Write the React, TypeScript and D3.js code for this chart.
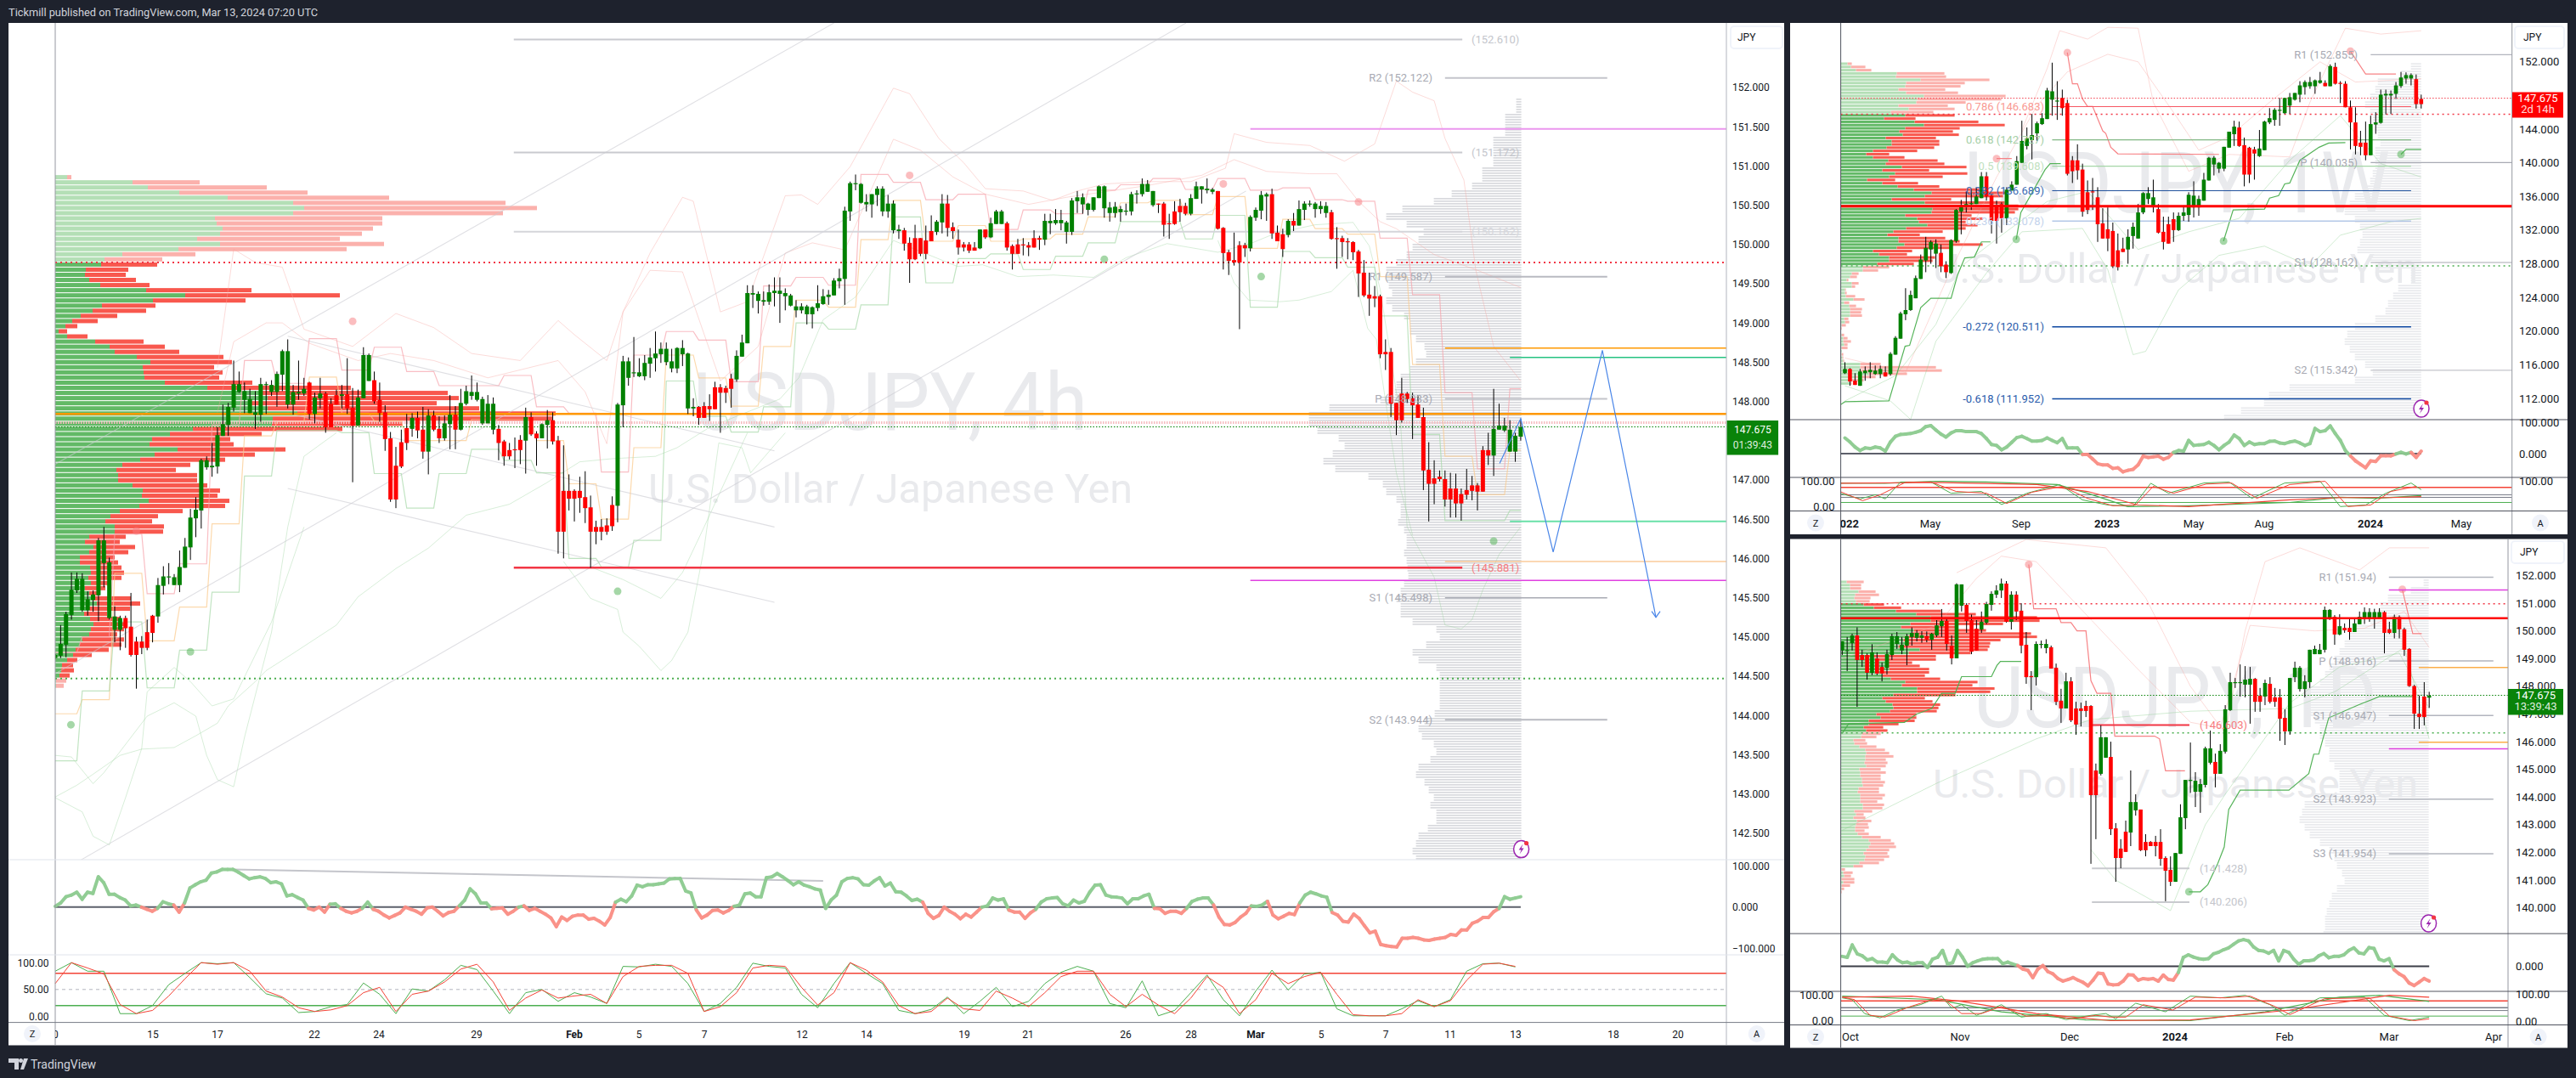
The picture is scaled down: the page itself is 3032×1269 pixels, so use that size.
import React from "react";
import * as d3 from "d3";

// ===== 4h candles [open, high, low, close] =====
const main4hCandles: number[][] = [
[144.73,144.78,144.72,144.77],[144.76,145.15,144.73,144.91],[144.90,145.32,144.74,145.29],[145.28,145.82,145.22,145.60],[145.59,145.82,145.56,145.74],[145.34,145.81,145.32,145.74],[145.34,145.58,145.27,145.48],[145.47,145.59,145.32,145.54],[145.53,146.26,145.20,146.23],[145.94,146.40,145.63,146.23],
[145.24,146.01,145.22,145.95],[145.09,145.39,144.93,145.26],[145.09,145.27,144.83,145.24],[145.24,145.27,144.86,145.11],[145.13,145.56,144.75,144.77],[144.94,145.0,144.34,144.77],[144.94,145.01,144.78,144.86],[145.06,145.22,144.83,144.86],[145.27,145.28,144.93,145.05],[145.26,145.75,145.18,145.66],
[145.65,145.90,145.54,145.77],[145.76,145.94,145.67,145.77],[145.66,145.80,145.66,145.76],[145.66,146.10,145.57,145.89],[145.88,146.26,145.88,146.15],[146.14,146.63,145.98,146.52],[146.51,146.78,146.27,146.62],[146.61,147.27,146.38,147.25],[147.16,147.30,147.13,147.25],[147.16,147.47,147.04,147.18],
[147.17,147.67,147.08,147.57],[147.56,147.96,147.56,147.71],[147.70,147.98,147.56,147.93],[147.92,148.52,147.87,148.22],[148.12,148.38,148.11,148.22],[148.02,148.24,147.85,148.13],[147.85,148.16,147.85,148.03],[147.83,148.13,147.65,147.86],[147.83,148.30,147.74,148.22],[148.21,148.25,147.84,148.22],
[148.12,148.27,148.07,148.21],[148.12,148.38,147.93,148.35],[148.34,148.66,148.13,148.64],[147.96,148.79,147.91,148.64],[147.96,148.21,147.83,148.12],[148.10,148.52,148.02,148.12],[148.10,148.30,148.07,148.16],[148.24,148.25,147.77,147.84],[147.84,148.11,147.72,148.05],[148.04,148.30,147.91,148.10],
[148.10,148.12,147.60,147.67],[147.97,148.04,147.67,147.67],[148.08,148.15,147.96,147.96],[148.07,148.21,147.91,148.09],[148.09,148.55,147.84,147.91],[147.92,148.17,146.97,147.69],[147.69,148.15,147.69,148.05],[148.04,148.69,148.04,148.59],[148.26,148.61,148.26,148.59],[148.27,148.38,147.97,148.0],
[148.02,148.24,147.74,147.85],[147.86,147.95,147.37,147.52],[147.53,147.61,146.72,146.75],[147.18,147.42,146.64,146.75],[147.48,147.64,147.15,147.17],[147.66,147.84,147.38,147.47],[147.65,147.85,147.55,147.79],[147.79,147.87,147.53,147.63],[147.64,147.93,147.27,147.36],[147.36,147.90,147.07,147.82],
[147.82,147.88,147.62,147.64],[147.65,147.81,147.47,147.53],[147.53,147.82,147.50,147.72],[147.71,148.08,147.39,147.83],[147.83,147.94,147.39,147.64],[147.64,148.16,147.63,147.98],[147.97,148.20,147.95,148.13],[148.07,148.33,148.02,148.12],[148.02,148.24,148.0,148.12],[147.72,148.06,147.70,148.03],
[147.72,148.08,147.72,147.97],[147.64,148.05,147.58,147.97],[147.65,147.70,147.25,147.47],[147.49,147.51,147.18,147.30],[147.38,147.47,147.26,147.30],[147.39,147.54,147.15,147.38],[147.51,147.57,147.20,147.38],[147.50,147.92,147.08,147.80],[147.80,147.86,147.56,147.58],[147.59,147.62,147.18,147.53],
[147.53,147.72,147.53,147.71],[147.70,147.89,147.40,147.76],[147.76,147.86,147.45,147.49],[147.50,147.56,146.06,146.34],[146.86,147.44,146.0,146.34],[146.86,147.07,146.61,146.76],[146.86,146.88,146.47,146.76],[146.86,147.04,146.58,146.77],[146.78,147.11,146.45,146.64],[146.65,146.80,145.88,146.34],
[146.40,146.48,146.18,146.34],[146.40,146.50,146.23,146.34],[146.42,146.51,146.30,146.34],[146.68,146.79,146.35,146.41],[146.67,147.98,146.46,147.96],[147.95,148.58,147.67,148.51],[148.30,148.56,148.20,148.51],[148.36,148.82,148.31,148.37],[148.32,148.55,148.31,148.37],[148.32,148.59,148.27,148.49],
[148.48,148.68,148.30,148.56],[148.55,148.89,148.38,148.61],[148.60,148.75,148.49,148.67],[148.50,148.75,148.46,148.67],[148.42,148.67,148.37,148.51],[148.42,148.69,148.36,148.68],[148.60,148.78,148.45,148.68],[147.91,148.62,147.84,148.61],[147.91,148.04,147.81,147.93],[147.93,147.94,147.70,147.79],
[147.94,147.99,147.79,147.79],[147.94,148.09,147.75,147.90],[148.18,148.25,147.90,147.90],[148.18,148.22,147.60,148.11],[148.17,148.20,147.98,148.11],[148.29,148.35,147.92,148.16],[148.28,148.65,148.25,148.58],[148.57,148.85,148.57,148.75],[148.74,149.48,148.74,149.38],[149.36,149.48,149.19,149.38],
[149.28,149.40,149.12,149.37],[149.27,149.40,149.22,149.29],[149.27,149.49,149.23,149.39],[149.38,149.58,149.21,149.41],[149.37,149.58,149.0,149.41],[149.34,149.44,149.16,149.38],[149.22,149.37,149.21,149.35],[149.16,149.29,149.07,149.21],[149.16,149.25,149.12,149.21],[149.11,149.23,148.98,149.21],
[149.11,149.21,148.93,149.20],[149.19,149.48,149.15,149.25],[149.24,149.43,149.23,149.34],[149.33,149.42,149.23,149.36],[149.35,149.57,149.35,149.54],[149.53,149.69,149.44,149.57],[149.56,150.48,149.23,150.43],[150.42,150.80,150.30,150.78],[150.77,150.89,150.69,150.78],[150.53,150.78,150.52,150.77],
[150.51,150.64,150.42,150.54],[150.51,150.64,150.34,150.64],[150.63,150.74,150.49,150.71],[150.42,150.74,150.36,150.71],[150.42,150.63,150.34,150.52],[150.18,150.56,150.14,150.52],[150.17,150.25,150.07,150.19],[150.18,150.21,149.92,150.01],[150.02,150.09,149.51,149.81],[150.08,150.25,149.80,149.81],
[150.08,150.08,149.85,149.88],[150.05,150.24,149.81,149.88],[150.17,150.37,150.04,150.04],[150.16,150.31,150.12,150.29],[150.28,150.64,150.14,150.52],[150.52,150.63,150.10,150.21],[150.22,150.28,150.07,150.17],[150.06,150.19,149.87,149.96],[150.0,150.03,149.91,149.96],[150.0,150.03,149.89,149.92],
[149.96,150.03,149.92,149.92],[149.95,150.19,149.94,150.19],[150.19,150.19,150.07,150.09],[150.09,150.34,150.08,150.27],[150.26,150.44,150.26,150.42],[150.26,150.44,150.26,150.42],[150.27,150.29,149.92,149.96],[149.98,150.0,149.68,149.88],[150.0,150.07,149.88,149.88],[150.0,150.08,149.86,149.99],
[149.99,150.03,149.85,149.96],[150.08,150.18,149.96,149.96],[150.08,150.11,149.93,150.06],[150.06,150.39,149.99,150.30],[150.27,150.39,150.13,150.30],[150.27,150.45,150.25,150.31],[150.27,150.44,150.18,150.31],[150.16,150.30,150.01,150.28],[150.16,150.59,150.12,150.56],[150.55,150.68,150.40,150.60],
[150.51,150.65,150.39,150.60],[150.44,150.53,150.37,150.52],[150.44,150.60,150.42,150.60],[150.59,150.75,150.59,150.74],[150.46,150.75,150.34,150.74],[150.40,150.54,150.29,150.47],[150.40,150.54,150.34,150.48],[150.41,150.49,150.29,150.45],[150.42,150.52,150.37,150.43],[150.42,150.67,150.37,150.64],
[150.64,150.69,150.52,150.65],[150.64,150.84,150.61,150.77],[150.67,150.82,150.67,150.77],[150.50,150.68,150.48,150.68],[150.52,150.52,150.40,150.51],[150.52,150.54,150.10,150.25],[150.27,150.39,150.07,150.26],[150.42,150.55,150.25,150.26],[150.49,150.58,150.29,150.41],[150.49,150.53,150.37,150.39],
[150.39,150.64,150.37,150.59],[150.58,150.80,150.58,150.74],[150.70,150.74,150.52,150.74],[150.69,150.84,150.65,150.71],[150.67,150.72,150.64,150.70],[150.68,150.68,150.19,150.20],[150.21,150.22,149.68,149.89],[149.90,149.93,149.61,149.79],[149.80,150.15,149.73,149.77],[149.99,150.04,148.92,149.77],
[149.99,150.02,149.84,149.95],[149.95,150.37,149.91,150.35],[150.34,150.47,150.30,150.44],[150.43,150.68,150.32,150.63],[150.61,150.66,150.30,150.64],[150.64,150.71,150.07,150.14],[150.15,150.24,150.04,150.04],[150.13,150.20,149.84,149.94],[150.12,150.32,150.09,150.30],[150.30,150.40,150.17,150.24],
[150.24,150.56,150.24,150.45],[150.44,150.55,150.31,150.52],[150.51,150.56,150.48,150.52],[150.45,150.54,150.34,150.52],[150.45,150.55,150.39,150.49],[150.40,150.54,150.34,150.49],[150.41,150.44,150.06,150.07],[150.08,150.22,149.69,150.07],[150.08,150.11,149.84,150.03],[150.04,150.08,149.81,150.03],
[150.03,150.04,149.80,149.90],[149.91,149.93,149.33,149.63],[149.64,149.80,149.33,149.35],[149.36,149.64,149.09,149.31],[149.34,149.47,149.20,149.31],[149.34,149.36,148.55,148.60],[148.63,148.79,148.40,148.60],[148.63,148.68,147.80,147.97],[147.98,147.98,147.57,147.76],[148.10,148.30,147.73,147.76],
[148.10,148.12,147.98,148.03],[148.04,148.11,147.52,147.95],[147.96,148.08,147.79,147.79],[147.80,147.92,146.87,147.12],[147.13,147.48,146.47,146.95],[147.02,147.25,146.69,146.95],[147.04,147.12,146.98,147.01],[147.01,147.12,146.66,146.75],[146.89,147.09,146.52,146.75],[146.89,147.08,146.52,146.70],
[146.82,146.89,146.48,146.70],[146.87,147.14,146.75,146.81],[146.93,147.05,146.74,146.86],[146.93,146.96,146.61,146.85],[147.38,147.43,146.85,146.85],[147.38,147.60,147.19,147.31],[147.31,148.16,147.05,147.65],[147.64,147.97,147.64,147.69],[147.63,147.79,147.61,147.69],[147.36,147.76,147.36,147.64],
[147.36,147.60,147.23,147.56],[147.55,147.78,147.50,147.67]];

const weeklyCandles: number[][] = [
[115.0,116.3,114.9,115.5],[115.5,115.6,113.5,114.0],[114.1,115.0,113.6,113.6],[113.5,115.5,113.5,115.2],[115.0,115.8,114.1,115.3],[115.1,116.3,114.4,115.4],[114.9,115.9,114.8,115.3],[114.9,115.9,114.4,115.5],[115.1,115.8,114.6,114.6],[114.9,117.5,114.7,117.3],
[117.2,119.4,117.2,119.2],[119.1,122.3,119.1,122.1],[122.0,125.1,121.3,122.5],[122.5,124.8,122.4,124.3],[123.9,126.6,123.9,126.3],[126.2,129.1,126.2,128.5],[128.4,131.2,127.0,129.9],[129.7,130.8,128.0,130.6],[129.2,130.9,127.5,130.4],[129.3,130.3,127.0,127.7],
[127.9,128.3,126.3,127.0],[126.9,130.9,126.8,130.8],[130.7,134.5,130.5,134.4],[134.2,135.6,131.5,134.8],[134.7,136.6,134.1,135.1],[135.1,136.8,134.4,135.2],[135.1,137.1,135.1,136.0],[135.8,138.9,135.8,138.4],[138.4,138.9,135.5,136.0],[136.1,136.2,131.6,133.1],
[135.0,135.5,130.4,133.1],[135.1,135.3,131.7,133.4],[133.4,137.1,132.6,136.8],[136.7,137.8,136.7,137.4],[137.4,140.8,137.4,140.2],[140.0,145.0,140.0,142.6],[142.0,144.2,141.6,142.9],[142.7,145.8,140.4,143.3],[143.5,144.9,142.6,144.7],[144.6,145.9,144.5,145.3],
[145.2,148.9,145.2,148.6],[147.5,151.9,145.6,148.5],[147.3,149.7,145.1,147.4],[147.7,148.7,145.6,146.5],[147.1,147.5,138.5,138.7],[140.3,140.8,137.6,139.0],[140.3,142.2,138.0,139.1],[139.2,139.9,133.6,134.2],[136.5,137.9,133.9,134.4],[136.6,138.2,134.4,136.5],
[135.9,137.1,130.6,132.7],[132.8,134.6,131.0,131.0],[132.1,134.7,129.5,131.0],[131.9,132.9,127.5,127.7],[129.6,131.6,127.2,127.6],[129.8,131.1,129.4,129.4],[129.7,132.1,128.0,131.2],[131.3,132.9,129.8,132.4],[131.0,135.1,131.0,134.1],[134.1,136.5,133.9,136.4],
[135.7,137.1,135.1,136.4],[134.9,138.0,134.1,135.9],[134.5,135.1,131.6,131.7],[131.8,133.6,129.7,130.6],[132.7,133.6,130.4,130.4],[133.3,134.1,130.6,132.0],[132.0,134.1,131.9,133.7],[133.7,134.9,133.1,134.1],[133.8,136.5,133.0,136.2],[134.7,137.8,133.5,136.1],
[134.7,136.1,133.7,135.7],[135.5,138.8,135.5,138.0],[137.9,140.7,137.9,140.6],[139.8,140.8,138.5,140.6],[139.3,140.1,138.8,140.0],[139.3,141.9,139.0,141.9],[141.8,143.7,141.8,143.7],[143.4,145.0,142.0,144.3],[144.2,144.9,141.9,142.0],[142.1,143.0,137.2,138.6],
[141.8,141.9,137.6,138.6],[141.6,141.9,138.0,141.1],[140.8,143.9,140.7,141.7],[141.5,145.0,141.5,144.9],[144.8,146.5,144.6,145.3],[145.1,146.5,144.4,146.3],[146.2,147.7,144.4,146.3],[145.9,147.7,145.8,147.7],[146.8,148.3,145.8,147.8],[147.5,148.3,147.4,148.3],
[148.1,149.7,147.2,149.2],[149.0,149.8,148.1,149.6],[149.1,150.2,148.8,149.6],[149.1,149.9,148.2,149.8],[149.5,150.8,149.4,149.8],[149.5,149.8,149.1,149.1],[149.1,151.7,149.1,151.5],[151.4,151.9,149.3,149.4],[149.5,149.7,147.1,149.4],[149.4,149.7,146.6,146.6],
[146.6,147.4,141.6,144.8],[144.8,146.6,141.0,142.0],[142.4,143.8,140.9,141.9],[142.4,144.9,140.3,140.9],[140.9,145.6,140.9,144.6],[144.55,146,143.45,144.8],[144.75,148.7,144.65,148.1],[148,148.7,145.75,148.2],[148,148.6,145.8,148.2],[148.2,149.6,147.6,149.2],
[149.13,150.8,148.9,150.14],[150.02,150.75,149.4,150.43],[150.02,150.63,149.2,150.43],[149.94,150.5,146.45,146.98],[147.59,148.1,146.45,146.98]];

const dailyCandles: number[][] = [
[149.29,149.62,149.13,149.62],[149.29,149.78,148.55,149.31],[149.56,149.9,149.29,149.84],[149.84,150.13,147.26,148.95],[149.13,149.32,148.70,148.95],[149.13,149.19,148.24,148.49],[148.49,149.52,148.40,149.22],[149.01,149.22,148.40,148.46],[148.70,148.86,148.18,148.46],[148.67,149.32,148.43,149.16],
[149.13,149.9,148.95,149.81],[149.53,149.96,149.35,149.81],[149.29,149.78,149.16,149.5],[149.47,149.9,148.76,149.81],[149.78,150.13,149.47,149.93],[149.75,150.03,149.62,149.93],[149.75,149.99,149.57,149.84],[149.81,149.98,149.59,149.68],[149.68,149.93,149.32,149.9],[149.84,150.39,149.78,150.2],
[150.17,150.79,149.78,150.36],[150.36,150.48,149.29,149.53],[149.47,149.84,148.79,149.01],[149.01,151.72,149.01,151.68],[150.91,151.68,150.7,151.68],[150.94,151.0,149.93,150.36],[150.39,150.59,149.16,149.25],[150.08,150.39,149.29,149.29],[150.05,150.7,149.93,150.33],[150.3,151.05,150.24,150.97],
[150.94,151.43,150.73,151.34],[151.31,151.65,151.19,151.46],[151.46,151.89,151.19,151.71],[151.71,151.8,150.3,150.33],[150.33,151.43,150.05,151.31],[151.31,151.43,150.39,150.7],[150.73,151.0,149.19,149.47],[149.5,149.96,148.09,148.33],[148.37,148.55,147.14,148.33],[148.33,149.62,148.03,149.53],
[149.5,149.65,149.37,149.53],[149.38,149.7,149.19,149.53],[149.41,149.47,148.64,148.64],[148.67,148.82,147.32,147.44],[147.48,147.91,146.68,147.2],[147.2,148.49,147.2,148.18],[148.18,148.33,146.71,146.77],[147.2,147.44,146.25,146.62],[147.2,147.41,146.55,147.11],[147.29,147.48,146.89,147.11],
[147.29,147.32,141.59,144.07],[144.96,145.21,142.48,144.07],[144.84,146.59,144.78,146.16],[145.42,146.16,145.42,146.16],[145.45,146.0,142.63,142.84],[142.87,143.06,140.94,141.8],[142.14,142.48,141.43,141.8],[142.75,143.15,142.02,142.02],[142.72,144.96,142.23,143.82],[143.52,144.1,143.33,143.82],
[143.55,143.55,142.05,142.08],[142.38,142.66,141.86,142.08],[142.38,142.41,142.23,142.23],[142.38,142.6,141.86,142.23],[142.38,142.84,141.52,141.77],[141.8,141.86,140.24,141.34],[141.37,141.86,140.79,140.94],[140.94,141.98,140.94,141.98],[141.95,143.74,141.95,143.27],[143.24,144.62,142.84,144.62],
[144.59,145.97,144.15,144.62],[144.19,144.9,143.64,144.59],[144.19,144.65,143.43,144.47],[144.44,145.82,144.35,145.76],[145.24,146.4,145.18,145.76],[145.27,145.57,144.35,144.84],[144.84,145.91,144.84,145.67],[145.64,147.32,145.57,147.17],[147.14,148.49,147.11,148.15],[148.12,148.3,147.94,148.15],
[148.12,148.79,147.63,148.15],[148.06,148.73,147.6,148.24],[148.06,148.7,146.65,148.27],[148.27,148.3,147.08,147.44],[147.66,147.94,147.08,147.44],[147.63,148.24,147.32,148.12],[148.09,148.33,147.38,147.44],[147.6,147.94,147.26,147.44],[147.6,147.9,146.03,146.83],[146.86,147.17,145.88,146.37],
[146.37,148.3,146.25,148.3],[148.33,148.89,148.15,148.67],[147.9,148.73,147.81,148.67],[147.9,148.4,147.6,148.18],[148.15,149.32,147.94,149.32],[149.16,149.47,149.16,149.35],[149.16,149.53,149.16,149.32],[149.32,150.88,149.22,150.76],[150.48,150.79,150.39,150.76],[150.51,150.57,149.5,149.87],
[149.87,150.6,149.84,150.17],[150.11,150.27,149.93,150.02],[150.11,150.45,149.68,149.96],[149.96,150.45,149.96,150.27],[150.24,150.7,150.24,150.51],[150.44,150.85,150.25,150.68],[150.44,150.82,150.33,150.68],[150.44,150.8,150.08,150.68],[150.46,150.82,150.44,150.68],[150.68,150.72,149.19,149.93],
[150.06,150.33,149.89,149.93],[149.93,150.59,149.73,150.5],[150.5,150.56,149.73,150.06],[150.06,150.12,149.1,149.32],[149.35,149.38,147.98,148.01],[148.01,148.05,146.46,147.01],[147.01,147.67,146.46,146.89],[147.63,148.15,146.59,146.89],[147.59,147.8,147.22,147.66]];

// ===== left volume profiles [up volume, total volume] =====
const main4hVolume: number[][] = [[14,19],[91,170],[109,249],[146,297],[203,393],[280,530],[293,567],[280,527],[188,385],[190,385],[197,374],[194,361],[167,335],[194,387],[145,343],[79,165],[58,126],[54,120],[36,86],[35,83],[40,95],[53,111],[107,231],[153,335],[115,224],[55,118],[44,107],[30,73],[20,50],[12,26],[4,14],[14,38],[47,104],[64,129],[70,146],[96,198],[112,208],[103,187],[104,197],[105,193],[129,232],[179,348],[241,462],[250,475],[228,449],[250,499],[285,589],[256,585],[255,409],[162,338],[135,243],[114,206],[111,210],[144,271],[117,235],[100,200],[79,159],[72,142],[74,167],[74,167],[91,179],[103,194],[102,191],[110,205],[99,200],[76,150],[65,121],[59,114],[70,128],[70,127],[40,83],[35,76],[45,94],[40,86],[29,70],[29,74],[41,78],[42,81],[39,78],[42,63],[35,59],[40,52],[45,89],[49,100],[40,88],[34,61],[41,77],[45,82],[42,81],[40,73],[32,81],[29,78],[24,63],[21,43],[14,26],[8,21],[7,22],[5,17],[1,13],[1,10]];
const weeklyVolume: number[][] = [[8,13],[12,29],[18,36],[66,122],[65,124],[94,175],[77,146],[76,141],[68,123],[77,138],[98,194],[90,189],[89,147],[68,126],[80,134],[59,109],[76,134],[51,88],[87,162],[98,193],[76,140],[69,132],[73,139],[53,112],[60,116],[60,116],[54,110],[38,90],[30,57],[38,75],[56,114],[53,122],[72,148],[49,104],[64,149],[57,120],[31,64],[49,91],[67,116],[86,167],[107,195],[99,191],[60,130],[99,193],[110,209],[108,209],[107,205],[76,154],[90,167],[92,147],[102,161],[77,147],[62,120],[55,93],[68,123],[68,140],[75,167],[66,130],[38,84],[45,78],[57,111],[57,108],[43,86],[26,57],[26,44],[13,21],[11,19],[7,9],[13,21],[13,17],[5,6],[5,7],[6,17],[15,28],[4,10],[10,18],[11,25],[11,24],[11,25],[4,9],[5,10],[1,6],[0.4,1],[0,0.4],[1,4],[3,8],[3,12],[4,8],[1,8],[1,1],[1,3],[2,3],[3,4],[23,47],[23,112],[24,119],[33,78],[17,41],[13,27],[11,13]];
const dailyVolume: number[][] = [[7,27],[11,24],[11,24],[21,41],[17,45],[16,35],[18,34],[27,51],[39,71],[65,118],[89,159],[106,231],[106,234],[82,191],[71,138],[86,171],[84,224],[80,231],[74,188],[76,176],[68,175],[93,173],[80,153],[33,112],[43,112],[55,84],[55,93],[57,104],[49,104],[49,99],[59,117],[76,161],[72,155],[90,181],[90,176],[62,135],[49,99],[53,108],[61,117],[62,115],[58,113],[42,89],[47,89],[33,87],[33,68],[27,50],[30,55],[25,47],[24,42],[15,29],[16,31],[22,42],[29,52],[30,57],[29,62],[29,53],[28,55],[30,53],[22,47],[23,53],[23,47],[25,47],[25,52],[26,50],[21,45],[20,45],[23,52],[23,49],[23,43],[26,51],[26,49],[16,37],[18,27],[15,29],[19,36],[18,32],[17,33],[17,28],[20,33],[25,47],[33,59],[35,63],[33,65],[30,57],[27,55],[29,57],[28,51],[22,45],[15,26],[1,5],[3,14],[4,12],[1,16],[3,16],[1,11],[1,4],[0.4,1]];

// ===== right fixed-range grey volume profiles =====
const mainGreyProfile = [6,6,19,19,19,33,33,33,33,46,46,58,82,103,140,159,135,115,121,128,135,147,159,159,156,152,159,152,138,131,131,124,114,112,124,131,142,147,149,166,226,250,250,240,215,208,222,233,219,180,163,159,147,142,142,145,138,135,135,138,135,134,133,138,142,147,142,142,128,100,96,112,128,121,100,96,96,96,96,96,102,114,121,117,103,100,107,121,124,114,109,103,107,100,100,110,121,124,128,124];
const weeklyGreyProfile = [12,24,51,54,60,66,60,57,54,51,48,54,54,54,57,60,66,78,84,90,78,72,69,72,75,60,54,12,12,27,33,39,42,54,78,87,90,84,78,66,57,78,155,179,185,212,232];
const dailyGreyProfile = [6,21,48,57,60,69,87,93,99,105,111,117,122,128,140,140,146,146,134,128,128,122,117,117,111,105,105,105,134,146,149,152,146,140,128,117,111,108,102,99,108,114,117,120,122,122,124];

// ===== main chart indicators =====
const mainCci = [2,10,25,29,36,19,36,33,73,59,31,31,23,17,3,5,0,-5,-10,-3,13,8,5,-12,10,46,54,61,65,82,85,91,91,91,84,76,68,71,73,69,59,61,56,27,30,23,17,-3,-7,0,-12,7,8,-3,-10,-14,-10,-3,12,-5,-10,-19,-26,-20,-14,0,-5,-10,-17,-2,0,-10,-21,-13,-10,3,17,44,32,10,10,-4,-3,-2,-17,-10,0,3,-8,-3,-10,-17,-26,-47,-24,-32,-22,-19,-19,-29,-27,-34,-43,-25,12,19,13,27,53,49,54,54,56,58,68,69,69,39,34,-7,-26,-19,-8,-7,-14,-8,2,5,32,34,25,25,71,73,81,73,64,54,61,53,49,44,41,-3,17,29,61,69,
71,68,54,53,63,71,51,58,37,36,27,16,19,12,-15,-27,-20,0,-10,-17,-28,-17,-24,-12,0,3,22,17,20,-7,-12,-12,-27,-14,-5,12,20,22,23,8,3,17,10,14,36,53,54,29,25,24,22,8,20,20,27,31,-3,-4,-15,-10,-10,-15,-3,14,19,22,22,5,-24,-42,-43,-37,-24,-15,3,2,5,14,-19,-28,-22,-15,-18,10,29,36,32,27,24,-13,-19,-34,-36,-17,-27,-45,-62,-58,-90,-93,-95,-96,-75,-75,-73,-75,-79,-80,-77,-75,-73,-66,-68,-55,-55,-39,-34,-25,-25,-11,-3,25,19,22,25];
// stochastic, one reading per three 4h bars
const mainStochK = [84,100,84,84,5,5,20,59,80,100,98,100,72,42,34,7,9,18,22,62,41,5,51,47,68,95,87,47,5,44,50,28,44,36,24,93,92,97,93,61,9,24,54,99,93,90,41,16,61,100,80,61,11,5,13,36,5,28,54,18,28,61,82,93,84,24,16,66,1,11,44,77,31,1,47,86,49,79,82,14,1,1,1,14,29,18,31,84,98,99,92];
const mainStochD = [61,100,90,79,22,5,11,38,70,100,97,100,84,47,36,16,9,12,20,44,54,9,41,47,64,88,97,64,11,34,49,34,38,41,24,74,93,95,95,80,9,18,44,90,95,93,54,21,44,100,86,64,20,5,9,34,14,11,47,34,18,44,74,84,84,41,18,41,21,5,34,74,54,5,31,80,61,74,82,41,3,1,1,5,31,18,29,67,97,99,93];

// daily-stepped channel of the 4h chart, one value per session
const mainUpperChannel = [144.8,145.0,146.31,145.55,145.93,147.7,148.52,148.23,148.80,148.4,148.69,148.38,148.2,148.2,148.33,147.93,147.85,147.1,148.59,148.89,148.78,148.25,149.47,149.58,149.48,150.89,150.79,150.57,150.64,150.19,150.44,150.39,150.69,150.76,150.84,150.70,150.84,150.69,150.72,150.57,150.55,150.08,149.36,148.11,147.14,148.16];
const mainMiddleChannel = [144.02,144.2,145.81,144.95,145.38,146.44,147.56,147.74,148.31,147.85,147.75,147.5,147.5,147.77,147.77,147.5,146.95,146.5,147.41,148.59,148.3,147.94,148.70,149.29,149.2,150.06,150.56,150.04,150.24,150.04,150.07,150.13,150.35,150.53,150.56,150.38,150.61,149.95,150.32,150.2,150.13,149.59,148.47,147.3,146.81,147.38];
const mainLowerChannel = [143.42,144.31,145.19,144.35,144.83,145.57,147.05,147.63,147.63,147.6,147.08,146.64,147.08,147.39,147.25,147.09,146.0,145.89,146.23,148.26,147.81,147.61,147.93,149.0,148.92,149.23,150.35,149.51,149.82,149.88,149.68,149.85,150.02,150.29,150.29,150.07,150.37,149.2,149.91,149.83,149.71,149.09,147.58,146.48,146.48,146.61];

// pale envelopes [bar, price]
const mainPinkEnvelopes: number[][][] = [
[[30,148.43],[33,149.94],[37,149.77],[42,149.71],[46,148.92],[55,148.7],[63,149.12],[70,148.94],[77,148.61],[86,148.52],[93,149.03],[96,148.85],[102,148.52],[105,149.14],[110,149.89],[116,150.6],[118,150.55],[123,149.14],[128,149.27],[135,150.62],[138,150.63],[141,150.51],[147,150.99],[155,151.99],[158,151.92],[163.4,151.35],[168,151.04],[172,150.71],[179,150.68],[184.4,150.56],[189,150.68],[194,150.77],[202,150.8],[210,150.8],[216.4,150.97],[218,151.41],[224,151.3],[232,151.26],[238.4,151.06],[244,151.28],[248,152.08],[251,151.94],[255,151.83],[257,151.35],[260.5,150.82],[262.7,149.67],[266,148.7],[271,148.26]],
[[30,147.86],[33,148.76],[39,149],[42,149],[47,148.74],[56,148.52],[62,148.61],[70,148.52],[80,148.3],[93,148.52],[98,148.12],[102,147.46],[105,149.14],[110,149.67],[116,149.65],[123,148.26],[130,148.7],[135,149.89],[140,150.02],[146,149.93],[155,151.34],[160,151.2],[166,150.86],[172,150.64],[180,150.51],[187,150.6],[193,150.66],[202,150.75],[212,150.88],[218,151.08],[224,150.93],[232,150.9],[237,150.9],[241,150.55],[245,150.29],[248,150.2],[255,149.87],[263,149.67],[271,149.45]]];
const mainGreenEnvelopes: number[][][] = [
[[0,142.96],[4,143.11],[7,143.25],[12,143.49],[16,143.57],[22,143.59],[26,143.74],[30,143.9],[32,144.12],[37,144.43],[39,144.57],[44,144.79],[52,145.15],[56,145.51],[63,145.87],[69,146.13],[76,146.55],[84,146.69],[90.8,146.96],[97,147.23],[103,147.27],[111,147.3],[115,147.41],[121,147.67],[126,147.81],[134,148.03],[137.5,148.3],[142,149.04],[148,149.33],[155,150.05],[166.8,149.72],[171.5,149.74],[178,149.59],[184.6,149.61],[192,149.58],[198,149.83],[205.6,150.01],[215,149.9],[221,150.01],[225.6,150.14],[233,150.25],[240,150.28],[243,149.98],[245,149.43],[248.7,147.81],[250,146.4],[255,145.76],[257,145.15],[260,145.1],[262,145.22],[264,145.6],[267,146.05],[271,146.4]],
[[0,143.49],[3,143.47],[7,143.13],[9,143.27],[14,143.72],[17,143.99],[22,144.16],[26,143.99],[28,143.49],[30,143.18],[33,143.09],[35,143.72],[40,145.06],[43,146.4],[46,147.3],[52,147.6]],
[[0,142.95],[5,142.77],[7,142.46],[10,142.35],[13,142.95],[16,143.58],[17,144.3],[22,144.61],[25,144.43],[29,144.12],[33,144.21],[40,145.19],[46,146.4]],
[[94,145.96],[99,145.49],[104,145.35],[105,145.06],[108,144.88],[112,144.57],[114,144.7],[117,145.06],[120,146.13],[122.7,147.47],[127,147.41],[128.6,147.09],[135,147.6]],
[[99,145.89],[105,145.73],[112,145.49],[116,145.82],[120,146.4],[128,147.6]],
[[215,150.05],[218,149.51],[220.7,149.29],[226.5,149.27],[230,149.29],[236,149.4],[240,149.67],[242.7,148.93],[244.3,148.79],[248,147.09],[251,146.3]]];
const mainTrendlines: number[][][] = [[[4.8,142.16],[220.2,150.68]],[[0,144.53],[209.1,152.82]],[[0,147.2],[144,152.82]],[[43,148.83],[133,147.37]],[[43,147.85],[133,146.4]],[[43,146.89],[133,145.44]]];
const mainProjection: number[][] = [[267.1,147.21],[271,147.78],[277,146.08],[286.1,148.65],[296,145.25]];
const mainPinkDots: number[][] = [[15,146.35],[55,149.02],[158,150.88],[216,150.77],[241,150.54]];
const mainGreenDots: number[][] = [[2.9,143.88],[25,144.81],[104,145.58],[194,149.81],[223,149.59],[266,146.22]];

// ===== weekly overlays =====
const weeklyCci = [50,37,21,10,18,16,21,18,8,37,55,61,62,64,68,73,86,89,75,62,53,66,73,73,70,70,70,64,48,29,26,12,21,36,51,55,48,40,40,42,50,42,35,48,18,18,18,-3,-3,-17,-32,-36,-36,-47,-45,-58,-53,-50,-36,-8,-12,-10,-8,-18,-12,4,10,8,42,26,28,29,36,26,12,26,37,59,48,26,37,29,32,32,39,40,34,32,37,40,34,26,32,80,70,73,88,64,42,10,-7,-23,-34,-45,-23,-25,-7,-7,-7,-1,4,-1,4,-12,8];
const weeklyStochK: number[][] = [[-1,53],[3,31],[6,47],[8,31],[11,97],[17,97],[21,53],[27,60],[31,9],[36,53],[42.5,87],[47,27],[52,7],[57,1],[60.5,92],[64,53],[71,93],[76,97],[80.5,33],[87,93],[94,100],[98,1],[103,7],[107,53],[112,93],[114,67]];
const weeklyStochD: number[][] = [[-1,60],[3.5,24],[7,47],[12,96],[17,97],[22,60],[28,53],[32,13],[37,57],[43,80],[48,33],[53,4],[57.5,7],[61,80],[65,53],[71.5,89],[76.5,93],[81.5,33],[88,87],[95,100],[99.5,1],[104,7],[108,60],[113,80]];
const weeklySlowK: number[][] = [[-1,93],[8,92],[18,100],[28,97],[42,87],[48,53],[56,1],[68,4],[88,17],[98,37],[105,33],[114,44]];
const weeklySlowD: number[][] = [[-1,92],[18,95],[38,87],[48,60],[58,7],[68,1],[88,27],[98,36],[108,36],[114,40]];
const weeklyRedStops: number[][][] = [[[44,153.1],[45,149.4],[46,149.4],[47,147.6],[48,146.7],[49,146.7],[51,143.8],[51.6,143.5],[52.6,141.85],[54,141.07],[74,141.0]],[[30,140.5],[33,140.5]],[[100,153.27],[103,150.55],[109,150.55]]];
const weeklyGreenStops: number[][][] = [[[-1,111.2],[0,111.6],[8.7,111.7],[11.9,118.2],[12.8,118.3],[15,122.8],[17,123.9],[21,123.9],[22.3,126.7],[23.7,128.7],[25.6,128.8],[27,130.6],[28.8,130.6]],[[33.9,130.9],[34.8,134.1],[39.6,139.2],[40.6,139.9],[42.7,139.9]],[[74.9,130.7],[76.8,134.4],[83,134.5],[84,135.8],[85.8,136.1],[87,137.5],[88,137.6],[90,140.3],[93.8,141.85],[95.7,142.35],[99,142.4]],[[110,141],[111,141.6],[114,141.6]]];
const weeklyPinkDots: number[][] = [[44,153.1],[30,140.5],[100,153.27]];
const weeklyGreenDots: number[][] = [[33.9,130.9],[74.9,130.7],[110,141]];
const weeklyPinkEnvelopes: number[][][] = [[[35,143.9],[40,151.2],[42.5,155.7],[48,154.7],[52,156.1],[58,156],[61,147.2],[68,139],[76,141],[88,140.7],[92,147.2],[99,156],[106,155.3],[114,155.7]],[[0,116.8],[12,115.1],[21,127.3],[30,138.3],[38,146.8],[44,150.8],[52,152.9],[58,152],[65,146],[70,141.5],[76,143.1],[84,147.2],[94,152],[101,149.6],[114,150]]];
const weeklyGreenEnvelopes: number[][][] = [[[0,113.5],[9,111.7],[13,109.5],[18,118.8],[28,126.9],[35,131.8],[47,132.2],[52,127.3],[57,117.2],[59.5,117.6],[66,124.9],[74,129],[83,130.1],[92,127.7],[98,131.4],[108,133],[114,133.4]],[[0,111.7],[10,114.7],[18,120.8],[23,127.7],[31,131.4],[40,135.4],[48,136.6],[58,129.7],[68,131.8],[78,133.4],[88,140.3],[98,145.6],[106,139.9],[114,138.3]]];

// ===== daily overlays =====
const dailyCci = [31,28,67,39,33,20,24,13,13,11,36,20,11,13,7,11,11,-4,22,28,50,7,11,50,28,0,11,17,22,24,24,24,8,13,7,2,-9,-13,-36,-9,2,-17,-24,-39,-47,-42,-36,-44,-51,-62,-44,-22,-24,-56,-59,-58,-47,-27,-28,-44,-39,-41,-39,-47,-28,-42,-44,-20,28,36,29,24,22,24,39,44,52,58,69,80,84,80,61,50,48,41,50,17,50,44,22,6,17,17,20,33,40,27,31,31,36,50,58,42,39,59,56,22,17,24,-11,-24,-33,-53,-61,-50,-39,-47];
const dailyStochK: number[][] = [[0,90],[2,83],[4.5,28],[7.6,11],[11,42],[15.7,63],[20,97],[22,49],[24,63],[27,21],[32,63],[36,14],[41,28],[45,4],[50,21],[53,28],[55,7],[59,69],[65,35],[70,97],[76,90],[81,100],[86,63],[89,21],[96,90],[105,93],[109,21],[114,0],[118,14]];
const dailyStochD: number[][] = [[0,93],[2.5,83],[5.6,21],[8.6,14],[13,51],[18,83],[21,76],[24,28],[28,28],[32,56],[37,18],[42,21],[46,7],[51,21],[54,14],[57,14],[60.5,63],[66.5,42],[71,93],[77,90],[82,97],[87,56],[90,24],[97,87],[106,90],[110,18],[115,0],[118,7]];
const dailySlowK: number[][] = [[0,97],[19,83],[32,35],[49,3],[70,0],[85,35],[100,93],[108,100],[118,76]];
const dailySlowD: number[][] = [[0,93],[14,97],[24,76],[39,28],[54,0],[70,3],[90,42],[110,100],[118,93]];
const dailyRedStops: number[][][] = [[[37.5,152.4],[38.5,150.8],[43,150.8],[44,150.3],[46,150.3],[47.2,150.0],[49,150.0],[50,148.2],[51.2,147.75],[54,147.75],[54.8,146.2],[62.8,146.2],[63.8,146.1],[65,144.95],[68.9,144.95]],[[112.6,151.5],[114.7,149.9],[116.5,149.9]]];
const dailyGreenStops: number[][][] = [[[0,146.3],[1.3,146.65],[12.5,146.7],[15,147],[18,147.2],[20,147.75],[22.7,147.75],[24,148.35],[30,148.35],[31.1,148.75],[31.8,148.9],[36,148.9]],[[69.7,140.58],[72,140.58],[73.5,140.84],[75.5,141.6],[76.8,142.2],[77.7,143.55],[80,144.25],[89.8,144.25],[93.8,144.85],[94.8,145.55],[95.8,145.55],[97.8,146.86],[103.8,147.33],[108,147.63],[115,147.63]]];
const dailyPinkDots: number[][] = [[37.5,152.4],[112.6,151.5]];
const dailyGreenDots: number[][] = [[69.7,140.58]];
const dailyPinkEnvelopes: number[][][] = [[[0,149],[19,150.2],[27,151.9],[32,152.7],[39,152.5],[49,150.6],[59,148.7],[70,146.7],[76,146.5],[82,150.2],[95,150],[105,150.1],[113,150.7],[118,149.4]],[[23,152.1],[37,153.3],[53,153],[61,151.2],[70,148],[77,146.3],[81,150],[85,152.5],[92,153],[104,152.2],[110,153],[118,153]]];
const dailyGreenEnvelopes: number[][][] = [[[50,142.1],[55,141],[66,139.9],[73,143],[77,144.1],[90,147.4],[100,148.7],[112,149.2],[118,147.2]],[[0,142.8],[19,144.5],[39,146.1],[50,146.8],[70,147.1],[90,147.2],[99,147.8],[113,149.4],[118,146.1]]];

// ===== tick labels =====
const mainPriceTicks = [152,151.5,151,150.5,150,149.5,149,148.5,148,147,146.5,146,145.5,145,144.5,144,143.5,143,142.5];
const weeklyPriceTicks = [152,144,140,136,132,128,124,120,116,112];
const dailyPriceTicks = [152,151,150,149,148,147,146,145,144,143,142,141,140];
const mainTimeLabels: [string, number, boolean][] = [["10",62,false],["15",180,false],["17",256,false],["22",370,false],["24",446,false],["29",561,false],["Feb",676,true],["5",752,false],["7",829,false],["12",944,false],["14",1020,false],["19",1135,false],["21",1210,false],["26",1325,false],["28",1402,false],["Mar",1478,true],["5",1555,false],["7",1631,false],["11",1707,false],["13",1784,false],["18",1899,false],["20",1975,false]];
const weeklyTimeLabels: [string, number, boolean][] = [["2022",2173,true],["May",2272,false],["Sep",2379,false],["2023",2480,true],["May",2582,false],["Aug",2665,false],["2024",2790,true],["May",2897,false]];
const dailyTimeLabels: [string, number, boolean][] = [["Oct",2178,false],["Nov",2307,false],["Dec",2436,false],["2024",2560,true],["Feb",2689,false],["Mar",2812,false],["Apr",2935,false]];

const FONT = "Roboto, sans-serif";
const DARK = "#1e222d";
const UP = "#008000";
const DOWN = "#ff0000";

const ln = (pts: number[][], x: any, y: any) => d3.line<number[]>().x((d) => x(d[0])).y((d) => y(d[1]))(pts) || "";

function Candles({ data, x, y, w }: any) {
  return (
    <g>
      {data.map((d: number[], i: number) => {
        const up = d[3] >= d[0];
        const top = y(Math.max(d[0], d[3]));
        const bot = y(Math.min(d[0], d[3]));
        return (
          <g key={i}>
            <line x1={x(i)} x2={x(i)} y1={y(d[1])} y2={y(d[2])} stroke="#000" strokeWidth={1} />
            <rect x={x(i) - w / 2} y={top} width={w} height={Math.max(1.2, bot - top)} fill={up ? UP : DOWN} />
          </g>
        );
      })}
    </g>
  );
}

function LeftVolume({ rows, y, left, top, step, darkFrom, darkTo, h }: any) {
  return (
    <g>
      {rows.map((r: number[], k: number) => {
        const light = k < darkFrom || k >= darkTo;
        const yy = y(top - k * step) - h / 2;
        return (
          <g key={k}>
            <rect x={left} y={yy} width={r[0]} height={h} fill={light ? "#b4dfb6" : "#62b966"} />
            <rect x={left + r[0]} y={yy} width={Math.max(0, r[1] - r[0])} height={h} fill={light ? "#fbb1ac" : "#f8584e"} />
          </g>
        );
      })}
    </g>
  );
}

function GreyProfile({ rows, y, right, top, step, fill }: any) {
  return (
    <g>
      {rows.flatMap((len: number, k: number) =>
        [0, 1, 2].map((j) => (
          <rect key={k + "-" + j} x={right - len} y={y(top - k * step) + j * 3} width={len} height={1.7} fill={fill} />
        ))
      )}
    </g>
  );
}

function Cci({ values, x, y, last, w }: any) {
  const sx = (k: number) => x((k * last) / (values.length - 1));
  return (
    <g strokeWidth={w} strokeLinecap="round" opacity={0.95}>
      {values.slice(0, -1).map((v: number, k: number) => (
        <line key={k} x1={sx(k)} x2={sx(k + 1)} y1={y(v)} y2={y(values[k + 1])} stroke={(v + values[k + 1]) / 2 >= 0 ? "#8ccb8f" : "#fa8d83"} />
      ))}
    </g>
  );
}

function Dots({ pts, x, y, fill }: any) {
  return <g>{pts.map((p: number[], i: number) => <circle key={i} cx={x(p[0])} cy={y(p[1])} r={4.5} fill={fill} opacity={0.5} />)}</g>;
}

function Paths({ sets, x, y, stroke, w, op }: any) {
  return <g fill="none">{sets.map((s: number[][], i: number) => <path key={i} d={ln(s, x, y)} stroke={stroke} strokeWidth={w} opacity={op} />)}</g>;
}

function Bolt({ cx, cy }: any) {
  return (
    <g>
      <ellipse cx={cx} cy={cy} rx={9} ry={10} fill="#fff" stroke="#9c27b0" strokeWidth={1.5} />
      <path d={`M${cx + 2} ${cy - 6} L${cx - 3} ${cy + 1} L${cx} ${cy + 1} L${cx - 2} ${cy + 6} L${cx + 3} ${cy - 1} L${cx} ${cy - 1} Z`} fill="#9c27b0" />
      <circle cx={cx + 6} cy={cy - 7} r={2.6} fill="#f23645" />
    </g>
  );
}

function Btn({ cx, cy, t }: any) {
  return (
    <g>
      <circle cx={cx} cy={cy} r={10} fill="#f0f3fa" />
      <text x={cx} y={cy + 4} fontSize={11} textAnchor="middle" fill="#131722" fontFamily={FONT}>{t}</text>
    </g>
  );
}

function Jpy({ x, y, w, h, tx }: any) {
  return (
    <g>
      <rect x={x} y={y} width={w} height={h} rx={4} fill="#fff" stroke="#f0f3fa" strokeWidth={2} />
      <text x={tx} y={y + h / 2 + 4} fontSize={12} fill="#131722" fontFamily={FONT}>JPY</text>
    </g>
  );
}

function Tag({ x, y, w, h, fill, a, b, fs }: any) {
  return (
    <g>
      <rect x={x} y={y} width={w} height={h} fill={fill} />
      <text x={x + w / 2} y={y + h * 0.38} fontSize={fs} fill="#fff" textAnchor="middle" fontFamily={FONT}>{a}</text>
      <text x={x + w / 2} y={y + h * 0.82} fontSize={fs} fill="#fff" textAnchor="middle" fontFamily={FONT} opacity={0.85}>{b}</text>
    </g>
  );
}

function Watermark({ title, tx, tw, ty, ts, sub, sx, sw, sy, ss }: any) {
  return (
    <g fill="#e9eaed" fontFamily={FONT}>
      <text x={tx} y={ty} fontSize={ts} textLength={tw} lengthAdjust="spacingAndGlyphs">{title}</text>
      <text x={sx} y={sy} fontSize={ss} textLength={sw} lengthAdjust="spacingAndGlyphs">{sub}</text>
    </g>
  );
}

function HL({ x1, x2, y, stroke, w = 1, dash, op = 1 }: any) {
  return <line x1={x1} x2={x2} y1={y} y2={y} stroke={stroke} strokeWidth={w} strokeDasharray={dash} opacity={op} />;
}

function Lbl({ x, y, t, fill = "#b2b5be", fs = 13, anchor = "start", bold = false }: any) {
  return <text x={x} y={y + 4.5} fontSize={fs} fill={fill} textAnchor={anchor} fontWeight={bold ? 700 : 400} fontFamily={FONT}>{t}</text>;
}

export default function App() {
  // ---- main pane scales ----
  const mx = d3.scaleLinear().domain([0, 271]).range([65, 65 + 6.365 * 271]);
  const my = d3.scaleLinear().domain([152, 147]).range([102.9, 564.9]);
  const mc = d3.scaleLinear().domain([100, -100]).range([1019, 1116.7]);
  const ms = d3.scaleLinear().domain([100, 0]).range([1133.2, 1196.4]);
  const mR = 2032;
  const channelPts = (vals: number[]) => vals.flatMap((v, k) => [[-1 + 6 * k, v], [Math.min(271, 4 + 6 * k), v]]);
  const every3 = (vals: number[]) => vals.map((v, k) => [k * 3, v]);

  // ---- weekly scales ----
  const wx = d3.scaleLinear().domain([0, 114]).range([2171.5, 2171.5 + 5.95 * 114]);
  const wy = d3.scaleLinear().domain([152, 112]).range([72.8, 469]);
  const wc = d3.scaleLinear().domain([100, 0]).range([497, 534]);
  const ws = d3.scaleLinear().domain([100, 0]).range([566.5, 596.6]);
  const wR = 2956.7;

  // ---- daily scales ----
  const dx = d3.scaleLinear().domain([0, 118]).range([2168.3, 2168.3 + 5.855 * 118]);
  const dy = d3.scaleLinear().domain([152, 140]).range([677.5, 1068.7]);
  const dc = d3.scaleLinear().domain([100, 0]).range([1100.15, 1137.4]);
  const ds = d3.scaleLinear().domain([100, 0]).range([1171.7, 1201.5]);
  const dR = 2952;

  const priceFmt = d3.format(".3f");

  return (
    <svg width={3032} height={1269} viewBox="0 0 3032 1269" style={{ position: "absolute", left: 0, top: 0, display: "block" }} fontFamily={FONT}>
      <defs>
        <clipPath id="cMain"><rect x={65} y={27} width={mR - 65} height={985} /></clipPath>
        <clipPath id="cMainT"><rect x={65} y={1204} width={mR - 65} height={26} /></clipPath>
        <clipPath id="cW"><rect x={2166.6} y={27} width={wR - 2166.6} height={467} /></clipPath>
        <clipPath id="cWT"><rect x={2166.6} y={602} width={wR - 2166.6} height={27} /></clipPath>
        <clipPath id="cWS"><rect x={2166.6} y={562} width={wR - 2166.6} height={39.5} /></clipPath>
        <clipPath id="cD"><rect x={2166.6} y={634.5} width={dR - 2166.6} height={464.5} /></clipPath>
        <clipPath id="cDS"><rect x={2166.6} y={1167} width={dR - 2166.6} height={39.5} /></clipPath>
      </defs>
      <rect width={3032} height={1269} fill={DARK} />
      <text x={10} y={19} fontSize={12.8} fill="#d1d4dc">Tickmill published on TradingView.com, Mar 13, 2024 07:20 UTC</text>
      {/* footer */}
      <g fill="#d1d4dc">
        <path d="M10 1246 h12 v13 h-5 v-8 h-7 z" />
        <circle cx={24.5} cy={1248.5} r={2.5} />
        <path d="M24 1259 l4 -13 h5 l-5 13 z" />
        <text x={36} y={1257.5} fontSize={14}>TradingView</text>
      </g>

      {/* ============ MAIN PANEL ============ */}
      <rect x={10} y={27} width={2090} height={1203.5} fill="#fff" />
      <Watermark title="USDJPY, 4h" tx={816} tw={464} ty={506} ts={94} sub="U.S. Dollar / Japanese Yen" sx={763} sw={570} sy={592} ss={49} />
      <g clipPath="url(#cMain)">
        <LeftVolume rows={main4hVolume} y={my} left={65} top={150.856} step={0.06544} darkFrom={17} darkTo={98} h={5} />
        <GreyProfile rows={mainGreyProfile} y={my} right={1790.6} top={151.858} step={0.0974} fill="#d9dade" />
        <Paths sets={mainPinkEnvelopes} x={mx} y={my} stroke="#f7a6a0" w={1} op={0.4} />
        <Paths sets={mainGreenEnvelopes} x={mx} y={my} stroke="#8fcf92" w={1} op={0.35} />
        <Paths sets={mainTrendlines} x={mx} y={my} stroke="#c9cad0" w={1.1} op={0.6} />
        <Paths sets={[channelPts(mainUpperChannel)]} x={mx} y={my} stroke="#f7a3ab" w={1.2} op={0.7} />
        <Paths sets={[channelPts(mainMiddleChannel)]} x={mx} y={my} stroke="#fbc98a" w={1.2} op={0.7} />
        <Paths sets={[channelPts(mainLowerChannel)]} x={mx} y={my} stroke="#a6d8a8" w={1.2} op={0.7} />
        <Dots pts={mainPinkDots} x={mx} y={my} fill="#f77c80" />
        <Dots pts={mainGreenDots} x={mx} y={my} fill="#4caf50" />

        <HL x1={mx(84.8)} x2={mx(260.2)} y={my(152.61)} stroke="#c9cacf" w={2} />
        <HL x1={mx(84.8)} x2={mx(260.2)} y={my(151.172)} stroke="#c9cacf" w={2} />
        <HL x1={mx(84.8)} x2={mx(260.2)} y={my(150.162)} stroke="#d4d5da" w={2} />
        <HL x1={mx(84.8)} x2={mx(260.2)} y={my(145.881)} stroke="#f23645" w={2.5} />
        <HL x1={mx(257)} x2={mx(287)} y={my(152.122)} stroke="#c4c5cb" w={2} />
        <HL x1={mx(257)} x2={mx(287)} y={my(149.587)} stroke="#b9bac1" w={2} />
        <HL x1={mx(257)} x2={mx(287)} y={my(148.033)} stroke="#c4c5cb" w={2} />
        <HL x1={mx(257)} x2={mx(287)} y={my(145.498)} stroke="#a8aab3" w={1.5} />
        <HL x1={mx(257)} x2={mx(287)} y={my(143.944)} stroke="#b9bac1" w={2} />
        <HL x1={mx(221)} x2={mR} y={my(151.47)} stroke="#ea96ee" w={2} />
        <HL x1={mx(221)} x2={mR} y={my(145.72)} stroke="#e040e0" w={1.5} />
        <HL x1={mx(257)} x2={mR} y={my(148.68)} stroke="#ff9800" w={1.5} />
        <HL x1={mx(257)} x2={mR} y={my(145.96)} stroke="#f7b267" w={1} />
        <HL x1={mx(269)} x2={mR} y={my(148.56)} stroke="#26c281" w={1.5} />
        <HL x1={mx(269)} x2={mR} y={my(146.47)} stroke="#69e0a8" w={2} />
        <HL x1={65} x2={mR} y={my(149.77)} stroke="#f23645" w={2} dash="2 4" />
        <HL x1={65} x2={mR} y={my(144.47)} stroke="#4caf50" w={2} dash="2 4" />
        <HL x1={65} x2={mR} y={my(147.73)} stroke="#f6bcc0" w={3} dash="1.5 1.5" />
        <HL x1={65} x2={mR} y={my(147.84)} stroke="#ff9800" w={2.5} />
        <HL x1={65} x2={mR} y={my(147.675)} stroke="#008000" w={1} dash="1.5 2" />
        <Candles data={main4hCandles} x={mx} y={my} w={5} />
        <path d={ln(mainProjection, mx, my)} fill="none" stroke="#4a86e8" strokeWidth={1.2} />
        <path d={`M${mx(296) - 5} ${my(145.25) - 7} L${mx(296)} ${my(145.25)} L${mx(296) + 5} ${my(145.25) - 7}`} fill="none" stroke="#4a86e8" strokeWidth={1.2} />
        <Lbl x={1732} y={my(152.61)} t="(152.610)" fill="#c4c6cc" />
        <Lbl x={1732} y={my(151.172)} t="(151.172)" fill="#c4c6cc" />
        <Lbl x={1732} y={my(150.162)} t="(150.162)" fill="#d6d7dc" />
        <Lbl x={1732} y={my(145.881)} t="(145.881)" fill="#f77c80" />
        <Lbl x={1686} y={my(152.122)} anchor="end" t="R2 (152.122)" fill="#a8aab3" />
        <Lbl x={1686} y={my(149.587)} anchor="end" t="R1 (149.587)" fill="#a8aab3" />
        <Lbl x={1686} y={my(148.033)} anchor="end" t="P (148.033)" fill="#a8aab3" />
        <Lbl x={1686} y={my(145.498)} anchor="end" t="S1 (145.498)" fill="#a8aab3" />
        <Lbl x={1686} y={my(143.944)} anchor="end" t="S2 (143.944)" fill="#a8aab3" />
        <Bolt cx={1790.6} cy={999.6} />
      </g>
      {/* main CCI */}
      <HL x1={mx(0)} x2={mx(271)} y={mc(0)} stroke="#5d606b" w={2} />
      <path d={ln([[32.8, 91], [142, 63]], mx, mc)} stroke="#c4c5cb" strokeWidth={2} fill="none" />
      <Cci values={mainCci} x={mx} y={mc} last={271} w={4} />
      {/* main stochastic */}
      <HL x1={65} x2={mR} y={ms(80)} stroke="#f44336" w={1.5} />
      <HL x1={65} x2={mR} y={ms(50)} stroke="#b2b5be" w={1} dash="4 4" />
      <HL x1={65} x2={mR} y={ms(20)} stroke="#4caf50" w={1.5} />
      <path d={ln(every3(mainStochK), mx, ms)} fill="none" stroke="#4caf50" strokeWidth={1} />
      <path d={ln(every3(mainStochD), mx, ms)} fill="none" stroke="#f44336" strokeWidth={1} />
      {/* main frames */}
      <line x1={65} x2={65} y1={27} y2={1230} stroke="#9598a1" />
      <line x1={mR} x2={mR} y1={27} y2={1230} stroke="#b2b5be" />
      <HL x1={10} x2={2100} y={1012} stroke="#e0e3eb" />
      <HL x1={10} x2={2100} y={1124} stroke="#e0e3eb" />
      <HL x1={10} x2={2100} y={1203.6} stroke="#787b86" />
      <Jpy x={2037} y={31} w={61} h={26} tx={2045} />
      {mainPriceTicks.map((p) => <Lbl key={p} x={2039} y={my(p)} t={priceFmt(p)} fill="#131722" fs={12} />)}
      <Lbl x={2039} y={mc(100)} t="100.000" fill="#131722" fs={12} />
      <Lbl x={2039} y={mc(0)} t="0.000" fill="#131722" fs={12} />
      <Lbl x={2039} y={mc(-100)} t="−100.000" fill="#131722" fs={12} />
      <Lbl x={57.4} y={ms(100)} t="100.00" anchor="end" fill="#131722" fs={12} />
      <Lbl x={57.4} y={ms(50)} t="50.00" anchor="end" fill="#131722" fs={12} />
      <Lbl x={57.4} y={ms(0)} t="0.00" anchor="end" fill="#131722" fs={12} />
      <g clipPath="url(#cMainT)">
        {mainTimeLabels.map(([t, x, b], i) => <Lbl key={i} x={x} y={1217.3} t={t} anchor="middle" bold={b} fill="#131722" fs={12} />)}
      </g>
      <Tag x={2032.6} y={495} w={60.5} h={40.5} fill="#098309" a="147.675" b="01:39:43" fs={12} />
      <Btn cx={38} cy={1217} t="Z" />
      <Btn cx={2067.7} cy={1217} t="A" />

      {/* ============ WEEKLY PANEL ============ */}
      <rect x={2107} y={27} width={915} height={602} fill="#fff" />
      <Watermark title="USDJPY, 1W" tx={2312} tw={501} ty={250} ts={101} sub="U.S. Dollar / Japanese Yen" sx={2275} sw={571} sy={333} ss={48} />
      <g clipPath="url(#cW)">
        <LeftVolume rows={weeklyVolume} y={wy} left={2166.6} top={151.78} step={(151.78 - 113.78) / (weeklyVolume.length - 1)} darkFrom={16} darkTo={63} h={3} />
        <GreyProfile rows={weeklyGreyProfile} y={wy} right={2849.7} top={151.85} step={0.909} fill="#e9eaed" />
        <Paths sets={weeklyPinkEnvelopes} x={wx} y={wy} stroke="#f7a6a0" w={1} op={0.4} />
        <Paths sets={weeklyGreenEnvelopes} x={wx} y={wy} stroke="#8fcf92" w={1} op={0.4} />
        <Paths sets={weeklyRedStops} x={wx} y={wy} stroke="#f77c80" w={1.2} op={0.95} />
        <Paths sets={weeklyGreenStops} x={wx} y={wy} stroke="#4caf50" w={1.2} op={0.95} />
        <Dots pts={weeklyPinkDots} x={wx} y={wy} fill="#f77c80" />
        <Dots pts={weeklyGreenDots} x={wx} y={wy} fill="#4caf50" />
        <HL x1={wx(41)} x2={wx(112)} y={wy(146.683)} stroke="#f7525f" />
        <HL x1={wx(41)} x2={wx(112)} y={wy(142.727)} stroke="#81b784" w={1.2} />
        <HL x1={wx(41)} x2={wx(112)} y={wy(139.608)} stroke="#a5d6a7" w={1.2} />
        <HL x1={wx(41)} x2={wx(112)} y={wy(136.689)} stroke="#1c4e9a" w={1} />
        <HL x1={wx(41)} x2={wx(112)} y={wy(133.078)} stroke="#b4c7e7" w={1.5} />
        <HL x1={wx(41)} x2={wx(112)} y={wy(120.511)} stroke="#0d47a1" w={1.5} />
        <HL x1={wx(41)} x2={wx(112)} y={wy(111.952)} stroke="#0d47a1" w={1.5} />
        <HL x1={wx(104)} x2={wR} y={wy(152.855)} stroke="#b2b5be" w={1.2} />
        <HL x1={wx(104)} x2={wR} y={wy(140.035)} stroke="#a8aab3" w={1.2} />
        <HL x1={wx(104)} x2={wR} y={wy(128.162)} stroke="#c4c5cb" w={1.5} />
        <HL x1={wx(104)} x2={wR} y={wy(115.342)} stroke="#c4c5cb" w={1.2} />
        <HL x1={2166.6} x2={wR} y={wy(145.76)} stroke="#f23645" w={1.5} dash="2 4" />
        <HL x1={2166.6} x2={wR} y={wy(147.675)} stroke="#f23645" w={1} dash="1.5 2" />
        <HL x1={2166.6} x2={wR} y={wy(127.75)} stroke="#4caf50" w={1.5} dash="2 4" />
        <Candles data={weeklyCandles} x={wx} y={wy} w={4.6} />
        <HL x1={2166.6} x2={wR} y={wy(134.85)} stroke="#ff0000" w={3} />
        <Lbl x={2406} y={wy(146.683)} anchor="end" t="0.786 (146.683)" fill="#f99a93" fs={13} />
        <Lbl x={2406} y={wy(142.727)} anchor="end" t="0.618 (142.727)" fill="#a5cfa7" fs={13} />
        <Lbl x={2406} y={wy(139.608)} anchor="end" t="0.5 (139.608)" fill="#bfe1c0" fs={13} />
        <Lbl x={2406} y={wy(136.689)} anchor="end" t="0.382 (136.689)" fill="#3a6bb3" fs={13} />
        <Lbl x={2406} y={wy(133.078)} anchor="end" t="0.236 (133.078)" fill="#c4d3ec" fs={13} />
        <Lbl x={2406} y={wy(120.511)} anchor="end" t="-0.272 (120.511)" fill="#2a5cab" fs={13} />
        <Lbl x={2406} y={wy(111.952)} anchor="end" t="-0.618 (111.952)" fill="#2a5cab" fs={13} />
        <Lbl x={2775} y={wy(152.855)} anchor="end" t="R1 (152.855)" fill="#a8aab3" />
        <Lbl x={2775} y={wy(140.035)} anchor="end" t="P (140.035)" fill="#a8aab3" />
        <Lbl x={2775} y={wy(128.162)} anchor="end" t="S1 (128.162)" fill="#a8aab3" />
        <Lbl x={2775} y={wy(115.342)} anchor="end" t="S2 (115.342)" fill="#a8aab3" />
        <Bolt cx={2850} cy={481} />
      </g>
      <HL x1={2166.6} x2={wx(114)} y={wc(0)} stroke="#5d606b" w={2} />
      <Cci values={weeklyCci} x={wx} y={wc} last={114} w={4} />
      <g clipPath="url(#cWS)">
        <HL x1={2166.6} x2={wR} y={ws(76)} stroke="#f44336" w={1.5} />
        <HL x1={2166.6} x2={wR} y={ws(47)} stroke="#787b86" w={1} />
        <HL x1={2166.6} x2={wR} y={ws(37)} stroke="#787b86" w={1} />
        <HL x1={2166.6} x2={wR} y={ws(17)} stroke="#4caf50" w={1} />
        <path d={ln(weeklySlowK, wx, ws)} fill="none" stroke="#4caf50" strokeWidth={1.2} />
        <path d={ln(weeklySlowD, wx, ws)} fill="none" stroke="#f44336" strokeWidth={1.2} />
        <path d={ln(weeklyStochK, wx, ws)} fill="none" stroke="#4caf50" strokeWidth={1} />
        <path d={ln(weeklyStochD, wx, ws)} fill="none" stroke="#f44336" strokeWidth={1} />
      </g>
      <line x1={2166.6} x2={2166.6} y1={27} y2={629} stroke="#50535e" />
      <line x1={wR} x2={wR} y1={27} y2={629} stroke="#9598a1" />
      <HL x1={2107} x2={3022} y={494} stroke="#50535e" />
      <HL x1={2107} x2={3022} y={562} stroke="#50535e" />
      <HL x1={2107} x2={3022} y={601.5} stroke="#50535e" />
      <Jpy x={2960} y={31} w={58} h={26} tx={2970} />
      {weeklyPriceTicks.map((p) => <Lbl key={p} x={2965} y={wy(p)} t={priceFmt(p)} fill="#131722" />)}
      <Lbl x={2965} y={497} t="100.000" fill="#131722" />
      <Lbl x={2965} y={534} t="0.000" fill="#131722" />
      <Lbl x={2965} y={566.5} t="100.00" fill="#131722" />
      <Lbl x={2159.5} y={566.5} t="100.00" anchor="end" fill="#131722" />
      <Lbl x={2159.5} y={596.6} t="0.00" anchor="end" fill="#131722" />
      <g clipPath="url(#cWT)">
        {weeklyTimeLabels.map(([t, x, b], i) => <Lbl key={i} x={x} y={616} t={t} anchor="middle" bold={b} fill="#131722" />)}
      </g>
      <Tag x={2957} y={108.5} w={60} h={30} fill="#ff0000" a="147.675" b="2d 14h" fs={13} />
      <Btn cx={2137} cy={615.5} t="Z" />
      <Btn cx={2990} cy={615.5} t="A" />

      {/* ============ DAILY PANEL ============ */}
      <rect x={2107} y={634.5} width={915} height={599} fill="#fff" />
      <Watermark title="USDJPY, 1D" tx={2323} tw={475} ty={856} ts={101} sub="U.S. Dollar / Japanese Yen" sx={2275} sw={571} sy={939} ss={47} />
      <g clipPath="url(#cD)">
        <LeftVolume rows={dailyVolume} y={dy} left={2166.6} top={151.77} step={(151.77 - 140.57) / (dailyVolume.length - 1)} darkFrom={7} darkTo={47} h={3} />
        <GreyProfile rows={dailyGreyProfile} y={dy} right={2858.6} top={151.86} step={0.276} fill="#e9eaed" />
        <Paths sets={dailyPinkEnvelopes} x={dx} y={dy} stroke="#f7a6a0" w={1} op={0.4} />
        <Paths sets={dailyGreenEnvelopes} x={dx} y={dy} stroke="#8fcf92" w={1} op={0.4} />
        <Paths sets={dailyRedStops} x={dx} y={dy} stroke="#f77c80" w={1.2} op={0.95} />
        <Paths sets={dailyGreenStops} x={dx} y={dy} stroke="#4caf50" w={1.2} op={0.95} />
        <Dots pts={dailyPinkDots} x={dx} y={dy} fill="#f77c80" />
        <Dots pts={dailyGreenDots} x={dx} y={dy} fill="#4caf50" />
        <HL x1={dx(50.2)} x2={dx(69.8)} y={dy(146.603)} stroke="#f23645" w={2} />
        <HL x1={dx(50.2)} x2={dx(69.8)} y={dy(141.428)} stroke="#c9cacf" w={2} />
        <HL x1={dx(50.2)} x2={dx(69.8)} y={dy(140.206)} stroke="#c9cacf" w={2} />
        {[151.94, 148.916, 146.947, 143.923, 141.954].map((p) => <HL key={p} x1={dx(109.9)} x2={dx(109.9) + 123} y={dy(p)} stroke="#b2b5be" w={1.5} />)}
        <HL x1={dx(109.9)} x2={dR} y={dy(151.48)} stroke="#e040e0" w={1.5} />
        <HL x1={dx(109.9)} x2={dR} y={dy(145.74)} stroke="#e040e0" w={1.5} />
        <HL x1={dx(115.9)} x2={dR} y={dy(148.68)} stroke="#fbae4a" w={1.5} />
        <HL x1={dx(115.9)} x2={dR} y={dy(145.98)} stroke="#fbae4a" w={1.5} />
        <HL x1={2166.6} x2={dR} y={dy(150.98)} stroke="#f23645" w={1.5} dash="2 4" />
        <HL x1={2166.6} x2={dR} y={dy(146.32)} stroke="#4caf50" w={1.5} dash="2 4" />
        <HL x1={2166.6} x2={dR} y={dy(147.675)} stroke="#008000" w={1} dash="1.5 2" />
        <Candles data={dailyCandles} x={dx} y={dy} w={4.6} />
        <HL x1={2166.6} x2={dR} y={dy(150.46)} stroke="#ff0000" w={2.5} />
        <Lbl x={2617} y={dy(146.603)} anchor="middle" t="(146.603)" fill="#f77c80" />
        <Lbl x={2617} y={dy(141.428)} anchor="middle" t="(141.428)" fill="#c4c6cc" />
        <Lbl x={2617} y={dy(140.206)} anchor="middle" t="(140.206)" fill="#c4c6cc" />
        <Lbl x={2797} y={dy(151.94)} anchor="end" t="R1 (151.94)" fill="#a8aab3" />
        <Lbl x={2797} y={dy(148.916)} anchor="end" t="P (148.916)" fill="#a8aab3" />
        <Lbl x={2797} y={dy(146.947)} anchor="end" t="S1 (146.947)" fill="#a8aab3" />
        <Lbl x={2797} y={dy(143.923)} anchor="end" t="S2 (143.923)" fill="#a8aab3" />
        <Lbl x={2797} y={dy(141.954)} anchor="end" t="S3 (141.954)" fill="#a8aab3" />
        <Bolt cx={2858.6} cy={1087} />
      </g>
      <HL x1={2166.6} x2={dx(118)} y={dc(0)} stroke="#3c3f48" w={2} />
      <Cci values={dailyCci} x={dx} y={dc} last={118} w={4} />
      <g clipPath="url(#cDS)">
        <HL x1={2166.6} x2={dR} y={ds(78)} stroke="#f44336" w={1.5} />
        <HL x1={2166.6} x2={dR} y={ds(51)} stroke="#787b86" w={1.5} />
        <HL x1={2166.6} x2={dR} y={ds(40)} stroke="#787b86" w={1} />
        <HL x1={2166.6} x2={dR} y={ds(18)} stroke="#4caf50" w={1} />
        <path d={ln(dailySlowK, dx, ds)} fill="none" stroke="#4caf50" strokeWidth={1.2} />
        <path d={ln(dailySlowD, dx, ds)} fill="none" stroke="#f44336" strokeWidth={1.2} />
        <path d={ln(dailyStochK, dx, ds)} fill="none" stroke="#4caf50" strokeWidth={1} />
        <path d={ln(dailyStochD, dx, ds)} fill="none" stroke="#f44336" strokeWidth={1} />
      </g>
      <line x1={2166.6} x2={2166.6} y1={634.5} y2={1233.4} stroke="#50535e" />
      <line x1={dR} x2={dR} y1={634.5} y2={1233.4} stroke="#9598a1" />
      <HL x1={2107} x2={3022} y={1099} stroke="#50535e" />
      <HL x1={2107} x2={3022} y={1167} stroke="#50535e" />
      <HL x1={2107} x2={3022} y={1206.5} stroke="#50535e" />
      <Jpy x={2956} y={637} w={62} h={26} tx={2966} />
      {dailyPriceTicks.map((p) => <Lbl key={p} x={2961} y={dy(p)} t={priceFmt(p)} fill="#131722" />)}
      <Lbl x={2961} y={1137.4} t="0.000" fill="#131722" />
      <Lbl x={2961} y={1170.5} t="100.00" fill="#131722" />
      <Lbl x={2961} y={1202.8} t="0.00" fill="#131722" />
      <Lbl x={2158} y={1171.7} t="100.00" anchor="end" fill="#131722" />
      <Lbl x={2158} y={1201.5} t="0.00" anchor="end" fill="#131722" />
      {dailyTimeLabels.map(([t, x, b], i) => <Lbl key={i} x={x} y={1220.6} t={t} anchor="middle" bold={b} fill="#131722" />)}
      <Tag x={2952} y={811} w={65} h={30.5} fill="#098309" a="147.675" b="13:39:43" fs={13} />
      <Btn cx={2137} cy={1220.6} t="Z" />
      <Btn cx={2987.6} cy={1220.6} t="A" />
    </svg>
  );
}
